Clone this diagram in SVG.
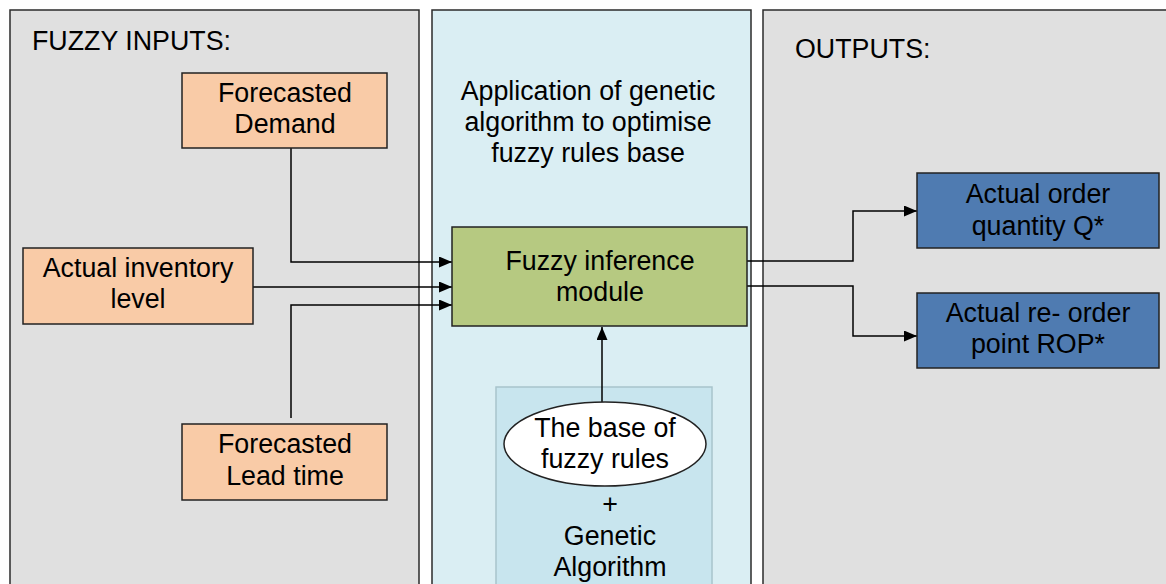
<svg xmlns="http://www.w3.org/2000/svg" width="1166" height="584" viewBox="0 0 1166 584">
<defs>
<style>
text{font-family:"Liberation Sans",Arial,sans-serif;font-size:26.8px;fill:#000}
.c{text-anchor:middle}
.panel{stroke:#2b2b2b;stroke-width:1.5}
.box{stroke:#222;stroke-width:1.5}
.conn{fill:none;stroke:#000;stroke-width:1.5}
</style>
<marker id="ah" markerWidth="13" markerHeight="11" refX="13" refY="5.5" orient="auto" markerUnits="userSpaceOnUse">
<path d="M0,0 L13,5.5 L0,11 Z" fill="#000"/>
</marker>
</defs>
<g id="panel-inputs">
<rect class="panel" x="10" y="10" width="409" height="590" fill="#e0e0e0"/>
<text x="32" y="50">FUZZY INPUTS:</text>
</g>
<g id="panel-ga">
<rect class="panel" x="432" y="10" width="319" height="590" fill="#daeef3"/>
<text class="c" x="588" y="100">Application of genetic</text>
<text class="c" x="588" y="131">algorithm to optimise</text>
<text class="c" x="588" y="162">fuzzy rules base</text>
</g>
<g id="panel-outputs">
<rect class="panel" x="763" y="10" width="420" height="590" fill="#e0e0e0"/>
<text x="795" y="58">OUTPUTS:</text>
</g>
<g id="ga-box">
<rect x="496" y="387" width="216" height="220" fill="#c8e5ee" stroke="#a8c4cc" stroke-width="1.5"/>
<text class="c" x="610" y="513">+</text>
<text class="c" x="610" y="545">Genetic</text>
<text class="c" x="610" y="576">Algorithm</text>
</g>
<g id="connectors">
<path class="conn" d="M291,148 V262 H452" marker-end="url(#ah)"/>
<path class="conn" d="M253,287 H452" marker-end="url(#ah)"/>
<path class="conn" d="M291,418 V305 H452" marker-end="url(#ah)"/>
<path class="conn" d="M602,402 V327" marker-end="url(#ah)"/>
<path class="conn" d="M747,261 H853 V211 H917" marker-end="url(#ah)"/>
<path class="conn" d="M747,286 H853 V336 H917" marker-end="url(#ah)"/>
</g>
<g id="forecasted-demand">
<rect class="box" x="182" y="73" width="205" height="75" fill="#f9cba7"/>
<text class="c" x="285" y="102">Forecasted</text>
<text class="c" x="285" y="133">Demand</text>
</g>
<g id="inventory-level">
<rect class="box" x="23" y="248" width="230" height="76" fill="#f9cba7"/>
<text class="c" x="138" y="277">Actual inventory</text>
<text class="c" x="138" y="308">level</text>
</g>
<g id="forecasted-lead-time">
<rect class="box" x="182" y="424" width="205" height="76" fill="#f9cba7"/>
<text class="c" x="285" y="453">Forecasted</text>
<text class="c" x="285" y="485">Lead time</text>
</g>
<g id="fuzzy-inference">
<rect class="box" x="452" y="227" width="295" height="99" fill="#b6c981"/>
<text class="c" x="600" y="270">Fuzzy inference</text>
<text class="c" x="600" y="301">module</text>
</g>
<g id="rules-base">
<ellipse cx="605" cy="444" rx="101" ry="42" fill="#fff" stroke="#222" stroke-width="1.5"/>
<text class="c" x="605" y="437">The base of</text>
<text class="c" x="605" y="468">fuzzy rules</text>
</g>
<g id="order-quantity">
<rect class="box" x="917" y="173" width="242" height="75" fill="#4f7bb1"/>
<text class="c" x="1038" y="203">Actual order</text>
<text class="c" x="1038" y="235">quantity Q*</text>
</g>
<g id="reorder-point">
<rect class="box" x="917" y="293" width="242" height="75" fill="#4f7bb1"/>
<text class="c" x="1038" y="322">Actual re- order</text>
<text class="c" x="1038" y="353">point ROP*</text>
</g>
</svg>
